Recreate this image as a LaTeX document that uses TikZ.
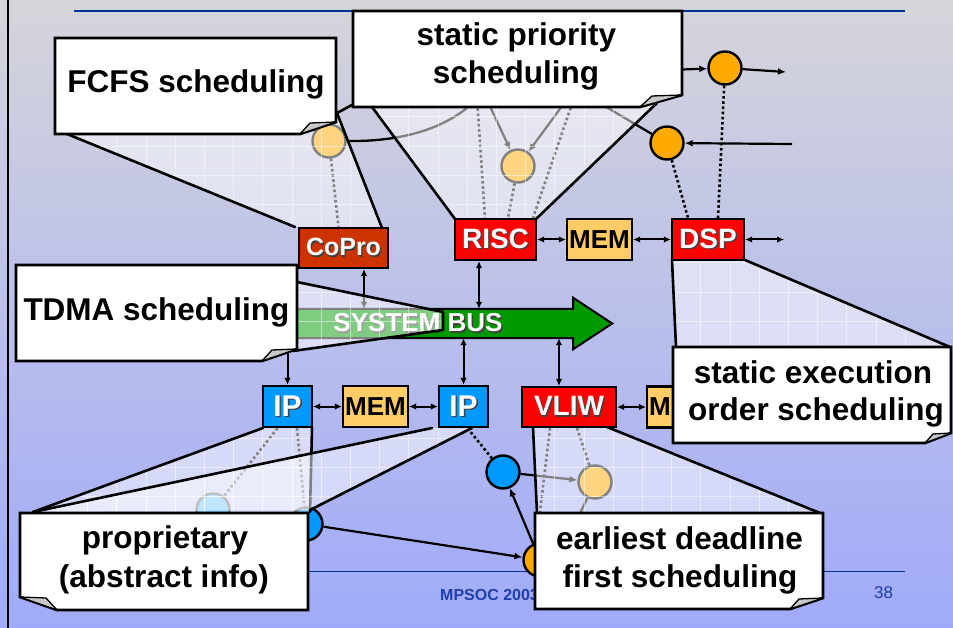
\documentclass[tikz,border=0pt]{standalone}
\usepackage{fontspec}
\setmainfont{Liberation Sans}
\usetikzlibrary{arrows.meta,calc}

\definecolor{bgTop}{RGB}{213,213,218}
\definecolor{bgMid}{RGB}{192,197,236}
\definecolor{bgBot}{RGB}{160,170,250}
\definecolor{rulecol}{RGB}{0,51,153}
\definecolor{footcol}{RGB}{31,63,170}
\definecolor{copro}{RGB}{204,51,0}
\definecolor{cpured}{RGB}{255,0,0}
\definecolor{ipblue}{RGB}{0,153,255}
\definecolor{memfill}{RGB}{255,204,102}
\definecolor{taskorange}{RGB}{255,170,0}
\definecolor{busgreen}{RGB}{0,153,0}
\definecolor{foldgray}{RGB}{200,200,200}

\pgfdeclarelayer{under}
\pgfdeclarelayer{veil}
\pgfsetlayers{under,veil,main}

% white lettering with a dark drop shadow
\newcommand\shadowed[1]{\makebox[0pt][l]{\hspace{1.4pt}\raisebox{-1.4pt}{\textcolor{black!75}{#1}}}#1}
\newcommand\calloutfont{\fontsize{31.5}{36}\selectfont\bfseries}

% translucent textured overlay of a callout tail
\newcommand\veilfill[1]{%
  \begin{scope}
    \clip #1;
    \fill[white, opacity=.5] (0,0) rectangle (953,628);
    \draw[white, opacity=.5, line width=.9pt, step=29.2pt] (0,628) grid (953,0);
  \end{scope}}

\tikzset{
  pe/.style={rectangle, draw=black, line width=2.2pt, inner sep=0pt,
    minimum height=41pt, text=white},
  membox/.style={pe, fill=memfill, text=black, minimum width=65pt,
    font=\fontsize{26}{28}\selectfont\bfseries},
  taskc/.style={circle, draw=black, line width=2.4pt, minimum size=33pt, inner sep=0pt},
  dotline/.style={line width=2.6pt, dash pattern=on 2.6pt off 2.6pt},
  solidline/.style={line width=2.3pt},
  flow/.style={line width=2.2pt, -{Latex[length=8pt,width=7pt]}},
  buslink/.style={line width=2pt, {Latex[length=7pt,width=6.5pt]}-{Latex[length=7pt,width=6.5pt]}},
  tailline/.style={line width=2.6pt, line join=round, line cap=round},
  boxline/.style={draw=black, fill=white, line width=2.7pt, line join=miter},
  foldstyle/.style={fill=foldgray, draw=black, line width=1.3pt, line join=round},
  calltext/.style={font=\calloutfont, anchor=base, inner sep=0pt},
}

\begin{document}
\begin{tikzpicture}[x=1pt, y=-1pt]
\useasboundingbox (0,0) rectangle (953,628);

% ---------- processing elements ----------
\node[pe, fill=copro, minimum width=89pt, minimum height=40pt,
  font=\fontsize{25}{27}\selectfont\bfseries] (CoPro) at (343.5,248) {\shadowed{CoPro}};
\node[pe, fill=cpured, minimum width=81pt, font=\fontsize{28}{30}\selectfont\bfseries]
  (RISC) at (495.5,239.5) {\shadowed{RISC}};
\node[membox] (MEMa) at (599.5,239.5) {MEM};
\node[pe, fill=cpured, minimum width=72pt, font=\fontsize{28}{30}\selectfont\bfseries]
  (DSP) at (708,239.5) {\shadowed{DSP}};
\node[pe, fill=ipblue, minimum width=49pt, font=\fontsize{30}{32}\selectfont\bfseries]
  (IPa) at (287.5,406.5) {\shadowed{IP}};
\node[membox] (MEMb) at (375.5,406.5) {MEM};
\node[pe, fill=ipblue, minimum width=49pt, font=\fontsize{30}{32}\selectfont\bfseries]
  (IPb) at (463.5,406.5) {\shadowed{IP}};
\node[pe, fill=cpured, minimum width=94pt, minimum height=40pt,
  font=\fontsize{28}{30}\selectfont\bfseries] (VLIW) at (569,407) {\shadowed{VLIW}};
\node[membox] (MEMc) at (679.5,407) {MEM};
\node[inner sep=0pt, minimum width=333pt, minimum height=29pt] (bus) at (406.5,323.5) {};

\begin{pgfonlayer}{under}
  % slide background
  \fill[top color=bgTop, middle color=bgMid, bottom color=bgBot] (0,0) rectangle (953,628);
  \draw[black, line width=2pt] (8,0) -- (8,628);
  \draw[rulecol, line width=1.3pt] (74,11) -- (905,11);
  \draw[rulecol, line width=1.3pt] (74,571.5) -- (905,571.5);
  \node[anchor=base west, inner sep=0pt, text=footcol,
    font=\fontsize{16}{18}\selectfont\bfseries] (footer) at (440,600) {MPSOC 2003};
  \node[anchor=base west, inner sep=0pt, text=footcol,
    font=\fontsize{17}{19}\selectfont] (pageno) at (874,598) {38};

  % system bus
  \filldraw[fill=busgreen, draw=black, line width=2pt, line join=miter]
    (bus.north west) -- (bus.north east) -- ($(bus.north east)+(0,-11)$)
    -- ($(bus.east)+(39,0)$) -- ($(bus.south east)+(0,11)$)
    -- (bus.south east) -- (bus.south west) -- cycle;
  \node[text=white, inner sep=0pt, font=\fontsize{26}{28}\selectfont\bfseries]
    (busLabel) at (418,323.5) {\shadowed{SYSTEM BUS}};

  % bus attachments
  \coordinate (cpX) at ($(CoPro.south)+(20.5,0)$);
  \draw[buslink] (cpX) -- (cpX |- bus.north);
  \coordinate (rsX) at ($(RISC.south)+(-16.5,0)$);
  \draw[buslink] (rsX) -- (rsX |- bus.north);
  \draw[buslink] (IPa.north |- bus.south) -- (IPa.north);
  \draw[buslink] (IPb.north |- bus.south) -- (IPb.north);
  \coordinate (vlX) at ($(VLIW.north)+(-10,0)$);
  \draw[buslink] (vlX |- bus.south) -- (vlX);

  % point-to-point links
  \draw[buslink] (RISC) -- (MEMa);
  \draw[buslink] (MEMa) -- (DSP);
  \coordinate (dspOut) at ($(DSP.east)+(39,0)$);
  \draw[buslink] (DSP) -- (dspOut);
  \draw[buslink] (IPa) -- (MEMb);
  \draw[buslink] (MEMb) -- (IPb);
  \draw[buslink] (VLIW) -- (MEMc);

  % task graph
  \node[taskc, fill=taskorange] (A) at (329,141) {};
  \node[taskc, fill=taskorange] (B) at (518,166) {};
  \node[taskc, fill=taskorange] (C) at (667,143) {};
  \node[taskc, fill=taskorange] (D) at (725,68) {};
  \node[taskc, fill=ipblue] (E) at (213,510) {};
  \node[taskc, fill=ipblue] (F) at (306,524) {};
  \node[taskc, fill=taskorange] (G) at (540,560) {};
  \node[taskc, fill=ipblue] (H) at (503,472) {};
  \node[taskc, fill=taskorange] (I) at (595,482) {};

  \coordinate (aEnd) at (478,98);
  \draw[solidline] (A.east) .. controls (405,142) and (450,127) .. (aEnd);
  \draw[dotline] (A) -- ($(CoPro.north)+(-5,0)$);
  \coordinate (bSrcL) at (486,98);
  \coordinate (bSrcR) at (568,98);
  \draw[flow] (bSrcL) -- (B);
  \draw[flow] (bSrcR) -- (B);
  \coordinate (rDotL) at (477,98);
  \coordinate (rDotR) at (574,98);
  \draw[dotline] (rDotL) -- ($(RISC.north)+(-10.5,0)$);
  \draw[dotline] (rDotR) -- ($(RISC.north)+(37.5,0)$);
  \draw[dotline] (B) -- ($(RISC.north)+(12.5,0)$);
  \coordinate (cSrc) at (792,144);
  \draw[flow] (cSrc) -- (C);
  \coordinate (cEnd) at (591,98);
  \draw[solidline] (C) -- (cEnd);
  \draw[dotline] (C) -- ($(DSP.north)+(-20,0)$);
  \coordinate (dSrc) at (668,70);
  \draw[flow] (dSrc) -- (D);
  \coordinate (dOut) at (786,72);
  \draw[flow] (D) -- (dOut);
  \draw[dotline] (D) -- ($(DSP.north)+(10,0)$);

  \draw[dotline] ($(IPa.south)+(-10,0)$) -- (E);
  \draw[dotline] ($(IPa.south)+(9.5,0)$) -- (F);
  \draw[flow] (F) -- (G);
  \draw[flow] (G) -- (H);
  \draw[dotline] ($(IPb.south)+(4,0)$) -- (H);
  \draw[flow] (H) -- (I);
  \coordinate (iEnd) at (572,530);
  \draw[solidline] (I) -- (iEnd);
  \coordinate (vDot) at (539,520);
  \draw[dotline] ($(VLIW.south)+(-19,0)$) -- (vDot);
  \draw[dotline] ($(VLIW.south)+(8,0)$) -- (I);
\end{pgfonlayer}

\begin{pgfonlayer}{veil}
  % FCFS tail to CoPro
  \veilfill{(67,134) -- (295,227) -- (382,228) -- (337,113) -- (300,100) -- cycle}
  \draw[tailline] (67,134) -- (295,227);
  \draw[tailline] (382,228) -- (337,113) -- (352,105);
  % static priority tail to RISC
  \veilfill{(372,100) -- (657,100) -- (657,103) -- (536,219) -- (455,219) -- (372,107) -- cycle}
  \draw[tailline] (372,107) -- (455,219);
  \draw[tailline] (657,103) -- (536,219);
  % TDMA tail to the bus
  \veilfill{(290,282) -- (443,312) -- (443,330) -- (290,352) -- cycle}
  \draw[tailline] (297,282) -- (443,312) -- (443,330) -- (293,351);
  % static execution order tail to DSP
  \veilfill{(672,260) -- (745,260) -- (950,347) -- (676,347) -- cycle}
  \draw[tailline] (672,260) -- (676,347);
  \draw[tailline] (745,260) -- (950,347);
  % EDF tail to VLIW
  \veilfill{(533,427) -- (607,427) -- (820,513) -- (537,513) -- cycle}
  \draw[tailline] (533,427) -- (537,513);
  \draw[tailline] (607,427) -- (820,513);
  % proprietary tails to both IPs
  \veilfill{(33,512) -- (263,428) -- (312,428) -- (310,512) -- cycle}
  \draw[tailline] (33,512) -- (263,428);
  \draw[tailline] (312,428) -- (310,512);
  \veilfill{(33,512) -- (432,428) -- (472,428) -- (310,510) -- cycle}
  \draw[tailline] (33,512) -- (432,428);
  \draw[tailline] (472,428) -- (310,510);
\end{pgfonlayer}

% ---------- callouts ----------
\draw[boxline] (55,38) -- (336,38) -- (336,122) -- (300,134) -- (55,134) -- cycle;
\draw[foldstyle] (300,134) -- (310,123) -- (336,122) -- cycle;
\node[calltext] (fcfsText) at (196,93) {FCFS scheduling};

\draw[boxline] (353,11) -- (682,11) -- (682,95) -- (640,107) -- (353,107) -- cycle;
\draw[foldstyle] (640,107) -- (652,96) -- (682,95) -- cycle;
\node[calltext] (spTextA) at (516.5,46) {static priority};
\node[calltext] (spTextB) at (516,84) {scheduling};

\draw[boxline] (16,265) -- (297,265) -- (297,349) -- (262,361) -- (16,361) -- cycle;
\draw[foldstyle] (262,361) -- (272,350) -- (297,349) -- cycle;
\node[calltext] (tdmaText) at (156.5,320) {TDMA scheduling};

\draw[boxline] (673,347) -- (951,347) -- (951,433) -- (925,443) -- (673,443) -- cycle;
\draw[foldstyle] (925,443) -- (933,434) -- (951,433) -- cycle;
\node[calltext] (seTextA) at (813,383) {static execution};
\node[calltext] (seTextB) at (816,420) {order scheduling};

\draw[boxline] (535,513) -- (823,513) -- (823,598) -- (790,609) -- (535,609) -- cycle;
\draw[foldstyle] (790,609) -- (799,599) -- (823,598) -- cycle;
\node[calltext] (edfTextA) at (679.5,549) {earliest deadline};
\node[calltext] (edfTextB) at (680,587) {first scheduling};

\draw[boxline] (20,513) -- (308,513) -- (308,610) -- (57,610) -- (20,597) -- cycle;
\draw[foldstyle] (57,610) -- (46,598) -- (20,597) -- cycle;
\node[calltext] (prTextA) at (165,548) {proprietary};
\node[calltext] (prTextB) at (164,587) {(abstract info)};
\end{tikzpicture}
\end{document}
